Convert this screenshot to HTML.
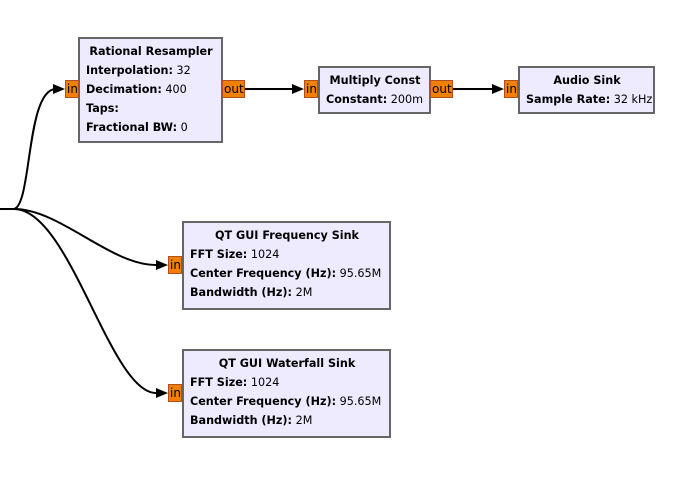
<!DOCTYPE html>
<html><head><style>
html,body{margin:0;padding:0;background:#fff;width:683px;height:490px;overflow:hidden;position:relative}
.b{position:absolute;box-sizing:border-box;background:#eeeaff;border:2px solid #666;font-family:"DejaVu Sans","Liberation Sans",sans-serif;font-size:11.2px;color:#000;line-height:19px;padding:3px 5px 0 6px;white-space:nowrap;overflow:hidden}
.b .t{font-weight:bold;text-align:center}
.b b{font-weight:bold}
.p{position:absolute;box-sizing:border-box;background:#f08000;border:1px solid #b05020;font-family:"DejaVu Sans","Liberation Sans",sans-serif;font-size:12px;line-height:16px;color:#000;padding-left:1px;overflow:hidden}
svg{position:absolute;left:0;top:0}
</style></head><body>
<svg width="683" height="490">
<g fill="none" stroke="#000" stroke-width="2">
<path d="M0 209 L14 209"/>
<path d="M14 209 C32 205 26 89 56 89"/>
<path d="M14 209 C60 209 110 265 156 265"/>
<path d="M14 209 C70 209 110 393 156 393"/>
<path d="M245 89 L294 89"/>
<path d="M453 89 L494 89"/>
</g>
<g fill="#000">
<polygon points="65,89 53,84 53,94"/>
<polygon points="304,89 292,84 292,94"/>
<polygon points="504,89 492,84 492,94"/>
<polygon points="168,265 156,260 156,270"/>
<polygon points="168,393 156,388 156,398"/>
</g>
</svg>
<div class="b" style="left:78px;top:37px;width:145px;height:106px"><div class="t">Rational Resampler</div><b>Interpolation:</b> 32<br><b>Decimation:</b> 400<br><b>Taps:</b><br><b>Fractional BW:</b> 0</div>
<div class="p" style="left:65px;top:80px;width:14px;height:18px">in</div>
<div class="p" style="left:222px;top:80px;width:23px;height:18px">out</div>
<div class="b" style="left:318px;top:66px;width:113px;height:48px"><div class="t">Multiply Const</div><b>Constant:</b> 200m</div>
<div class="p" style="left:304px;top:80px;width:14px;height:18px">in</div>
<div class="p" style="left:430px;top:80px;width:23px;height:18px">out</div>
<div class="b" style="left:518px;top:66px;width:137px;height:48px"><div class="t">Audio Sink</div><b>Sample Rate:</b> 32 kHz</div>
<div class="p" style="left:504px;top:80px;width:14px;height:18px">in</div>
<div class="b" style="left:182px;top:221px;width:209px;height:89px"><div class="t">QT GUI Frequency Sink</div><b>FFT Size:</b> 1024<br><b>Center Frequency (Hz):</b> 95.65M<br><b>Bandwidth (Hz):</b> 2M</div>
<div class="p" style="left:168px;top:256px;width:14px;height:18px">in</div>
<div class="b" style="left:182px;top:349px;width:209px;height:89px"><div class="t">QT GUI Waterfall Sink</div><b>FFT Size:</b> 1024<br><b>Center Frequency (Hz):</b> 95.65M<br><b>Bandwidth (Hz):</b> 2M</div>
<div class="p" style="left:168px;top:384px;width:14px;height:18px">in</div>
</body></html>
